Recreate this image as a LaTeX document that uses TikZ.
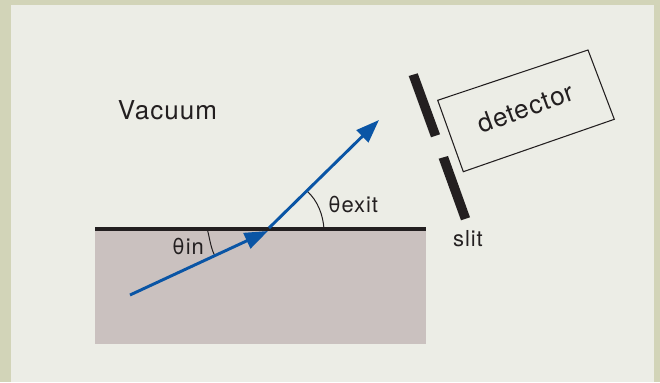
\documentclass[tikz,border=0pt]{standalone}
\usepackage{fontspec}
\setmainfont[LetterSpace=4]{TeX Gyre Heros}
\usetikzlibrary{arrows.meta}
\definecolor{frameC}{HTML}{D2D4B8}
\definecolor{panelC}{HTML}{ECEDE6}
\definecolor{bulkC}{HTML}{CAC1BF}
\definecolor{inkC}{HTML}{231F20}
\definecolor{beamC}{HTML}{0A55A5}
\tikzset{
  x=0.75pt,y=-0.75pt,
  beam/.style={draw=beamC,line width=2.2pt,-{Triangle[length=17.5pt,width=12.5pt,color=beamC]}},
  arcline/.style={draw=inkC,line width=0.75pt},
  label/.style={inner sep=0pt,text=inkC,font=\fontsize{16.5}{18}\selectfont},
  slitbar/.style={fill=inkC,draw=none},
}
\begin{document}
\begin{tikzpicture}
\useasboundingbox (0,0) rectangle (660,382);
\fill[frameC] (0,0) rectangle (660,382);
\fill[panelC] (10.7,4.7) rectangle (653.7,382);
\fill[bulkC] (95,230) rectangle (426,344);
\draw[inkC,line width=3pt] (95,229) -- (426,229);
\coordinate (hit) at (268,231);
\coordinate (start) at (130,295);
\coordinate (join) at (269,228);
\coordinate (tip) at (379,120);
\draw[arcline] (207.5,230) .. controls (210,240) and (211,249) .. (215,256);
\draw[arcline] (307,191) .. controls (318,201) and (323,215) .. (324,229);
\draw[beam] (start) -- (hit);
\draw[beam] (join) -- (tip);
\fill[slitbar] (408.7,76) -- (417.7,73.3) -- (440,134.3) -- (431,137.3) -- cycle;
\fill[slitbar] (438.7,158.7) -- (448,156) -- (470,217.3) -- (461,220.3) -- cycle;
\draw[inkC,line width=0.8pt] (437.7,100.3) -- (588,50) -- (614.3,119.3) -- (463.3,171.7) -- cycle;
\node[label,font=\fontsize{19.5}{21}\selectfont] (vac) at (167.5,110) {Vacuum};
\node[label,rotate=20,font=\fontsize{19.5}{21}\selectfont] (det) at (525.5,108) {detector};
\node[label] (sl) at (468,238.5) {slit};
\node[label] (ti) at (188,246.5) {θin};
\node[label] (te) at (353,205) {θexit};
\end{tikzpicture}
\end{document}
